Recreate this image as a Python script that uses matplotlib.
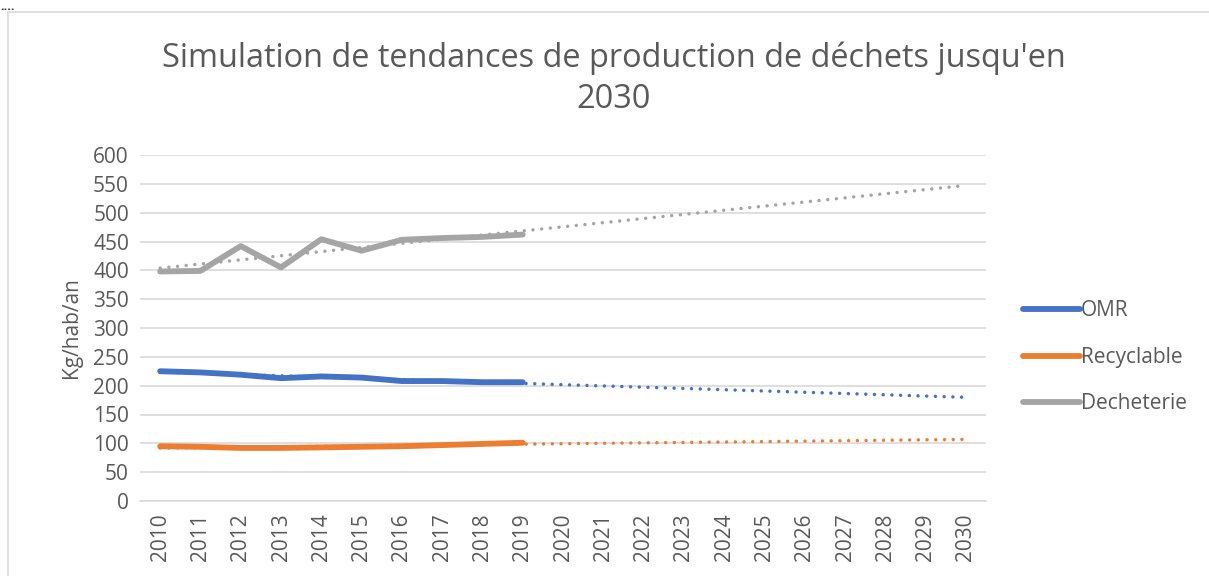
import numpy as np
import matplotlib
matplotlib.use('Agg')
import matplotlib.pyplot as plt
from matplotlib.patches import Rectangle

years = list(range(2010, 2031))
measured_years = list(range(2010, 2020))
omr = [225, 223, 219, 213, 216, 214, 208, 208, 206, 206]
recyclable = [95, 94, 92, 92, 93, 94, 95, 97, 99, 101]
decheterie = [398, 399, 442, 405, 454, 434, 453, 456, 458, 462]

series = [('OMR', omr, '#4472C4'),
          ('Recyclable', recyclable, '#ED7D31'),
          ('Decheterie', decheterie, '#A5A5A5')]

plt.rcParams['font.family'] = ['Open Sans', 'DejaVu Sans']
text_color = '#595959'

fig = plt.figure(figsize=(12.09, 5.76), dpi=100)
ax = fig.add_axes([140 / 1209, 1 - 501 / 576, 846 / 1209, 346 / 576])

x_all = np.arange(len(years))
x_meas = np.arange(len(measured_years))

for name, vals, col in series:
    ax.plot(x_meas, vals, color=col, lw=4.2, solid_capstyle='round',
            solid_joinstyle='round', label=name, zorder=3)
    # linear trendline, like Excel's
    a, b = np.polyfit(x_meas, vals, 1)
    ax.plot(x_all, a * x_all + b, color=col, lw=2.5,
            linestyle=(0, (0.01, 2.5)), dash_capstyle='round', zorder=4)

ax.set_xlim(-0.5, len(years) - 0.5)
ax.set_ylim(0, 600)
ax.set_yticks(np.arange(0, 601, 50))
ax.set_xticks(x_all)
ax.set_xticklabels([str(y) for y in years], rotation=90)
ax.grid(axis='y', color='#d9d9d9', lw=1.2)
ax.set_axisbelow(True)
for s in ['top', 'right', 'left']:
    ax.spines[s].set_visible(False)
ax.spines['bottom'].set_color('#d9d9d9')
ax.spines['bottom'].set_linewidth(1.2)
ax.tick_params(length=0, labelsize=15, colors=text_color, pad=8)
ax.tick_params(axis='x', pad=9)
ax.set_ylabel('Kg/hab/an', fontsize=15, color=text_color, labelpad=8)

fig.text(614 / 1209, 1 - 58 / 576,
         "Simulation de tendances de production de déchets jusqu'en",
         ha='center', va='center', fontsize=23.4, color=text_color)
fig.text(614 / 1209, 1 - 100 / 576, "2030",
         ha='center', va='center', fontsize=23.4, color=text_color)

leg = ax.legend(loc='center left', bbox_to_anchor=(1.022, 0.415), frameon=False,
                fontsize=15, labelcolor=text_color, handlelength=2.7,
                handletextpad=0.05, labelspacing=1.22)

# chart frame
fig.patches.append(Rectangle((8 / 1209, -0.05), 1.1, 1 - 12 / 576 + 0.05,
                             transform=fig.transFigure, fill=False,
                             edgecolor='#d9d9d9', lw=1.2))
fig.text(0.0, 1.0, '....', ha='left', va='top', fontsize=9,
         fontweight='bold', color='#333333')

fig.savefig('out.png', dpi=100)
